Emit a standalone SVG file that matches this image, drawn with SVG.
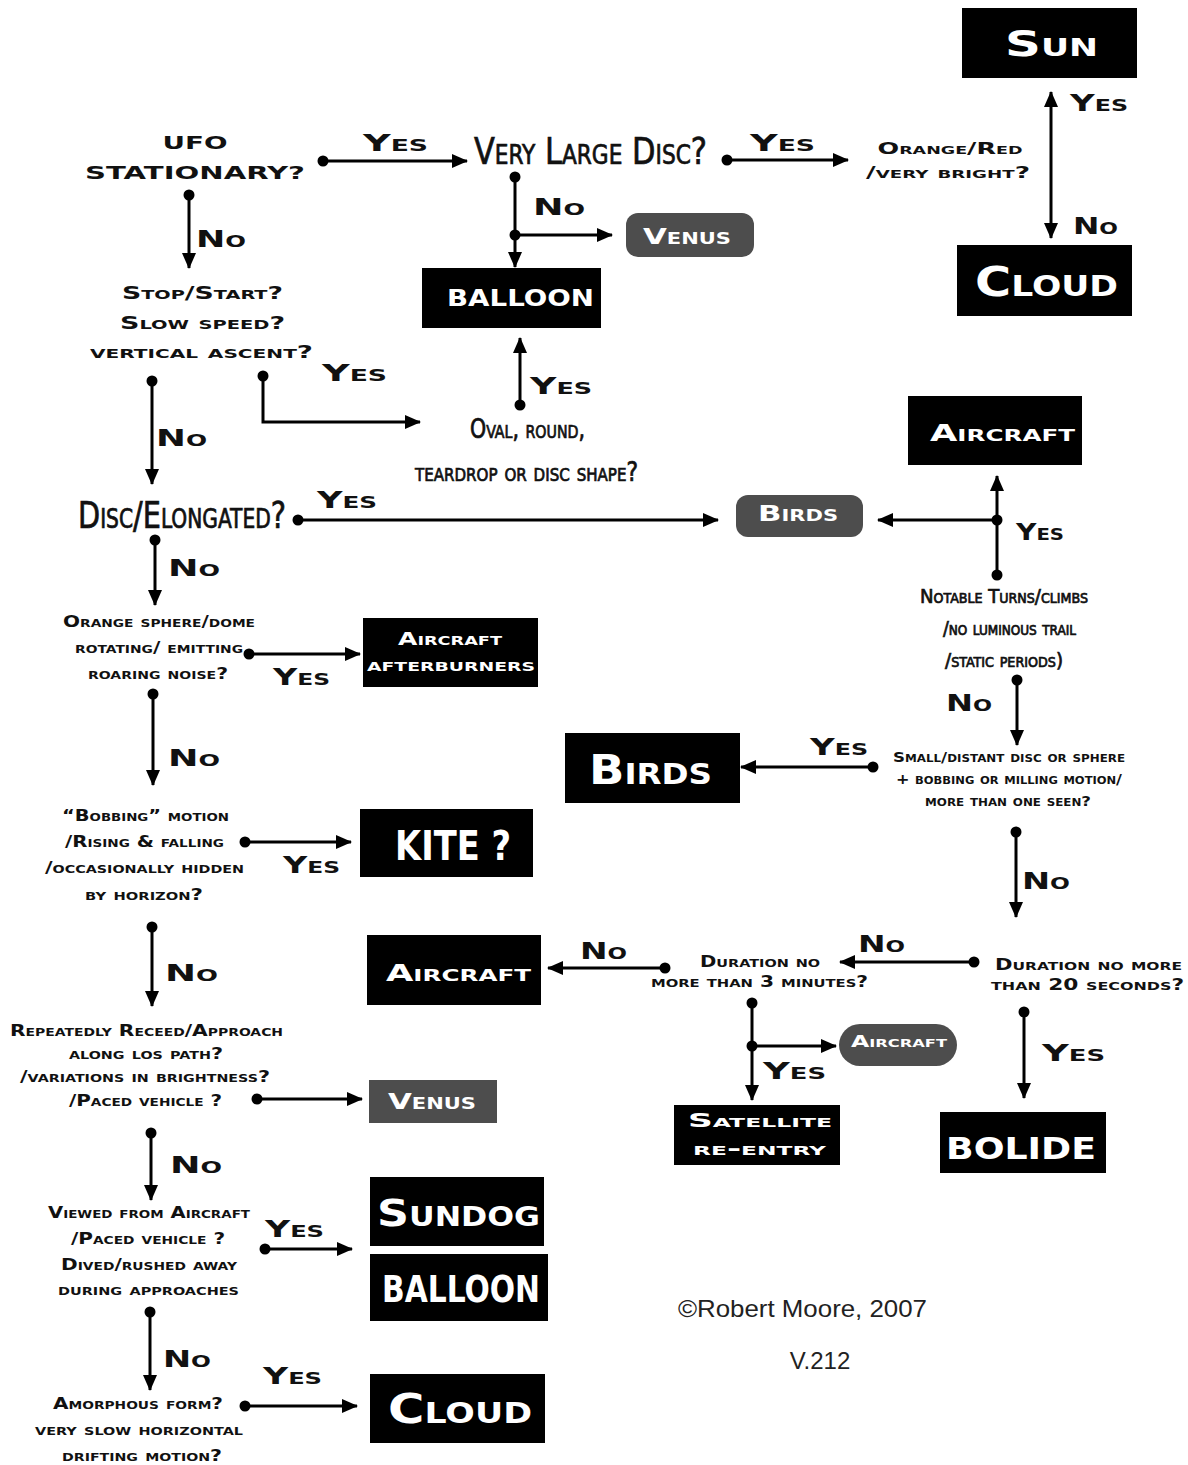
<svg xmlns="http://www.w3.org/2000/svg" width="1188" height="1465" viewBox="0 0 1188 1465">
<style>
.t{font-family:"DejaVu Sans","Liberation Sans",sans-serif;font-weight:bold;font-variant:small-caps;fill:#111;text-anchor:middle}
.w{fill:#fff}
.n{font-family:"DejaVu Sans Condensed","DejaVu Sans",sans-serif;font-stretch:condensed;font-variant:small-caps;fill:#111;stroke:#111;stroke-width:0.7;text-anchor:middle}
.k{font-family:"DejaVu Sans Condensed","DejaVu Sans",sans-serif;font-stretch:condensed;font-weight:bold;fill:#fff;text-anchor:middle}
.bx{fill:#000}
.gy{fill:#4d4d4d}
.c line,.c path{stroke:#000;stroke-width:3;fill:none}
.a{marker-end:url(#ah)}
.d{marker-start:url(#dot)}
.cr{font-family:"Liberation Sans",Arial,sans-serif;fill:#222}
</style>
<defs>
<marker id="ah" markerUnits="userSpaceOnUse" markerWidth="17" markerHeight="15" refX="15" refY="7" orient="auto-start-reverse" viewBox="0 0 17 14">
<path d="M0,0 L16,7 L0,14 z" fill="#000"/>
</marker>
<marker id="dot" markerUnits="userSpaceOnUse" markerWidth="12" markerHeight="12" refX="6" refY="6" orient="auto" viewBox="0 0 12 12">
<circle cx="6" cy="6" r="5.5" fill="#000"/>
</marker>
</defs>
<rect width="1188" height="1465" fill="#fff"/>

<g id="connectors" class="c">
<line class="d a" x1="323" y1="161" x2="467" y2="161"/>
<line class="d a" x1="727" y1="160" x2="848" y2="160"/>
<line x1="1051" y1="92" x2="1051" y2="238" style="marker-start:url(#ah);marker-end:url(#ah)"/>
<line class="d a" x1="189" y1="195" x2="189" y2="268"/>
<line class="d a" x1="515" y1="177" x2="515" y2="267"/>
<line class="d a" x1="515" y1="235" x2="612" y2="235"/>
<line class="d a" x1="520" y1="405" x2="520" y2="338"/>
<line class="d a" x1="152" y1="381" x2="152" y2="484"/>
<path class="d a" d="M263,376 L263,422 L420,422"/>
<line class="d a" x1="298" y1="520" x2="718" y2="520"/>
<line class="d a" x1="997" y1="575" x2="997" y2="476"/>
<line class="d a" x1="997" y1="520" x2="878" y2="520"/>
<line class="d a" x1="155" y1="540" x2="155" y2="605"/>
<line class="d a" x1="249" y1="654" x2="360" y2="654"/>
<line class="d a" x1="153" y1="694" x2="153" y2="785"/>
<line class="d a" x1="1017" y1="680" x2="1017" y2="745"/>
<line class="d a" x1="873" y1="767" x2="741" y2="767"/>
<line class="d a" x1="1016" y1="832" x2="1016" y2="917"/>
<line class="d a" x1="974" y1="962" x2="840" y2="962"/>
<line class="d a" x1="665" y1="968" x2="548" y2="968"/>
<line class="d a" x1="752" y1="1003" x2="752" y2="1100"/>
<line class="d a" x1="752" y1="1046" x2="836" y2="1046"/>
<line class="d a" x1="1024" y1="1012" x2="1024" y2="1098"/>
<line class="d a" x1="245" y1="842" x2="351" y2="842"/>
<line class="d a" x1="152" y1="927" x2="152" y2="1006"/>
<line class="d a" x1="257" y1="1099" x2="362" y2="1099"/>
<line class="d a" x1="151" y1="1133" x2="151" y2="1200"/>
<line class="d a" x1="265" y1="1249" x2="352" y2="1249"/>
<line class="d a" x1="150" y1="1312" x2="150" y2="1390"/>
<line class="d a" x1="245" y1="1406" x2="357" y2="1406"/>
</g>

<g id="edge-labels">
<text class="t" font-size="23" x="395.5" y="151" textLength="65" lengthAdjust="spacingAndGlyphs">Yes</text>
<text class="t" font-size="23" x="782.5" y="151" textLength="65" lengthAdjust="spacingAndGlyphs">Yes</text>
<text class="t" font-size="23" x="1099" y="111" textLength="58" lengthAdjust="spacingAndGlyphs">Yes</text>
<text class="t" font-size="23" x="1095.5" y="234" textLength="45" lengthAdjust="spacingAndGlyphs">No</text>
<text class="t" font-size="23" x="221" y="247" textLength="50" lengthAdjust="spacingAndGlyphs">No</text>
<text class="t" font-size="23" x="559" y="215" textLength="52" lengthAdjust="spacingAndGlyphs">No</text>
<text class="t" font-size="23" x="561" y="394" textLength="62" lengthAdjust="spacingAndGlyphs">Yes</text>
<text class="t" font-size="23" x="354.5" y="381" textLength="65" lengthAdjust="spacingAndGlyphs">Yes</text>
<text class="t" font-size="23" x="181.5" y="446" textLength="51" lengthAdjust="spacingAndGlyphs">No</text>
<text class="t" font-size="23" x="347" y="508" textLength="60" lengthAdjust="spacingAndGlyphs">Yes</text>
<text class="t" font-size="23" x="1040" y="540" textLength="48" lengthAdjust="spacingAndGlyphs">Yes</text>
<text class="t" font-size="23" x="194" y="576" textLength="52" lengthAdjust="spacingAndGlyphs">No</text>
<text class="t" font-size="23" x="301.5" y="685" textLength="57" lengthAdjust="spacingAndGlyphs">Yes</text>
<text class="t" font-size="23" x="969" y="711" textLength="46" lengthAdjust="spacingAndGlyphs">No</text>
<text class="t" font-size="23" x="194" y="766" textLength="52" lengthAdjust="spacingAndGlyphs">No</text>
<text class="t" font-size="23" x="839" y="755" textLength="58" lengthAdjust="spacingAndGlyphs">Yes</text>
<text class="t" font-size="23" x="311.5" y="873" textLength="57" lengthAdjust="spacingAndGlyphs">Yes</text>
<text class="t" font-size="23" x="1046" y="889" textLength="48" lengthAdjust="spacingAndGlyphs">No</text>
<text class="t" font-size="23" x="881.5" y="952" textLength="47" lengthAdjust="spacingAndGlyphs">No</text>
<text class="t" font-size="23" x="603.5" y="959" textLength="47" lengthAdjust="spacingAndGlyphs">No</text>
<text class="t" font-size="23" x="191.5" y="981" textLength="53" lengthAdjust="spacingAndGlyphs">No</text>
<text class="t" font-size="23" x="794.5" y="1079" textLength="63" lengthAdjust="spacingAndGlyphs">Yes</text>
<text class="t" font-size="23" x="1073.5" y="1061" textLength="63" lengthAdjust="spacingAndGlyphs">Yes</text>
<text class="t" font-size="23" x="196" y="1173" textLength="52" lengthAdjust="spacingAndGlyphs">No</text>
<text class="t" font-size="23" x="294.5" y="1237" textLength="59" lengthAdjust="spacingAndGlyphs">Yes</text>
<text class="t" font-size="23" x="187" y="1367" textLength="48" lengthAdjust="spacingAndGlyphs">No</text>
<text class="t" font-size="23" x="292.5" y="1384" textLength="59" lengthAdjust="spacingAndGlyphs">Yes</text>
</g>

<g id="q-ufo">
<text class="t" font-size="18" x="195" y="149" textLength="65" lengthAdjust="spacingAndGlyphs">UFO</text>
<text class="t" font-size="18" x="195" y="179" textLength="220" lengthAdjust="spacingAndGlyphs">STATIONARY?</text>
</g>
<g id="q-large-disc">
<text class="n" font-size="38" x="590.5" y="164" textLength="233" lengthAdjust="spacingAndGlyphs">Very Large Disc?</text>
</g>
<g id="q-orange-red">
<text class="t" font-size="16" x="950" y="154" textLength="145" lengthAdjust="spacingAndGlyphs">Orange/Red</text>
<text class="t" font-size="16" x="948" y="178" textLength="164" lengthAdjust="spacingAndGlyphs">/very bright?</text>
</g>
<g id="n-sun"><rect class="bx" x="962" y="8" width="175" height="70"/>
<text class="t w" font-size="36" x="1051.5" y="56" textLength="93" lengthAdjust="spacingAndGlyphs">Sun</text></g>
<g id="n-cloud-top"><rect class="bx" x="957" y="245" width="175" height="71"/>
<text class="t w" font-size="40" x="1046.5" y="296" textLength="143" lengthAdjust="spacingAndGlyphs">Cloud</text></g>
<g id="n-venus-top"><rect class="gy" x="626" y="213" width="128" height="44" rx="12"/>
<text class="t w" font-size="22" x="687" y="244" textLength="88" lengthAdjust="spacingAndGlyphs">Venus</text></g>
<g id="n-balloon-top"><rect class="bx" x="422" y="268" width="179" height="60"/>
<text class="t w" font-size="23" x="520.5" y="306" textLength="147" lengthAdjust="spacingAndGlyphs">BALLOON</text></g>
<g id="q-stop-start">
<text class="t" font-size="18" x="202.5" y="299" textLength="161" lengthAdjust="spacingAndGlyphs">Stop/Start?</text>
<text class="t" font-size="18" x="202.5" y="329" textLength="165" lengthAdjust="spacingAndGlyphs">Slow speed?</text>
<text class="t" font-size="18" x="201.5" y="358" textLength="223" lengthAdjust="spacingAndGlyphs">vertical ascent?</text>
</g>
<g id="q-oval">
<text class="n" font-size="26" x="527.5" y="438" textLength="115" lengthAdjust="spacingAndGlyphs">Oval, round,</text>
<text class="n" font-size="26" x="526.5" y="481" textLength="223" lengthAdjust="spacingAndGlyphs">teardrop or disc shape?</text>
</g>
<g id="n-aircraft-top"><rect class="bx" x="908" y="396" width="174" height="69"/>
<text class="t w" font-size="23" x="1002.5" y="441" textLength="145" lengthAdjust="spacingAndGlyphs">Aircraft</text></g>
<g id="q-disc-elongated">
<text class="n" font-size="37" x="182" y="528" textLength="208" lengthAdjust="spacingAndGlyphs">Disc/Elongated?</text>
</g>
<g id="n-birds-small"><rect class="gy" x="736" y="495" width="127" height="42" rx="12"/>
<text class="t w" font-size="22" x="798" y="521" textLength="80" lengthAdjust="spacingAndGlyphs">Birds</text></g>
<g id="q-notable">
<text class="n" font-size="20" x="1004" y="603" textLength="168" lengthAdjust="spacingAndGlyphs">Notable Turns/climbs</text>
<text class="n" font-size="20" x="1009.5" y="635" textLength="133" lengthAdjust="spacingAndGlyphs">/no luminous trail</text>
<text class="n" font-size="20" x="1004" y="667" textLength="118" lengthAdjust="spacingAndGlyphs">/static periods)</text>
</g>
<g id="q-orange-sphere">
<text class="t" font-size="16" x="159" y="627" textLength="192" lengthAdjust="spacingAndGlyphs">Orange sphere/dome</text>
<text class="t" font-size="16" x="159" y="653" textLength="168" lengthAdjust="spacingAndGlyphs">rotating/ emitting</text>
<text class="t" font-size="16" x="158" y="679" textLength="140" lengthAdjust="spacingAndGlyphs">roaring noise?</text>
</g>
<g id="n-afterburners"><rect class="bx" x="363" y="618" width="175" height="69"/>
<text class="t w" font-size="17" x="450" y="645" textLength="104" lengthAdjust="spacingAndGlyphs">Aircraft</text>
<text class="t w" font-size="17" x="451" y="671" textLength="168" lengthAdjust="spacingAndGlyphs">afterburners</text></g>
<g id="q-small-distant">
<text class="t" font-size="14" x="1009" y="762" textLength="232" lengthAdjust="spacingAndGlyphs">Small/distant disc or sphere</text>
<text class="t" font-size="14" x="1009" y="784" textLength="226" lengthAdjust="spacingAndGlyphs">+ bobbing or milling motion/</text>
<text class="t" font-size="14" x="1008" y="806" textLength="166" lengthAdjust="spacingAndGlyphs">more than one seen?</text>
</g>
<g id="n-birds-big"><rect class="bx" x="565" y="733" width="175" height="70"/>
<text class="t w" font-size="40" x="650.5" y="784" textLength="123" lengthAdjust="spacingAndGlyphs">Birds</text></g>
<g id="q-bobbing">
<text class="t" font-size="16" x="145.5" y="821" textLength="167" lengthAdjust="spacingAndGlyphs">“Bobbing” motion</text>
<text class="t" font-size="16" x="144.5" y="847" textLength="159" lengthAdjust="spacingAndGlyphs">/Rising &amp; falling</text>
<text class="t" font-size="16" x="144.5" y="873" textLength="199" lengthAdjust="spacingAndGlyphs">/occasionally hidden</text>
<text class="t" font-size="16" x="144" y="900" textLength="118" lengthAdjust="spacingAndGlyphs">by  horizon?</text>
</g>
<g id="n-kite"><rect class="bx" x="360" y="809" width="173" height="68"/>
<text class="k" font-size="40" x="453" y="860" textLength="116" lengthAdjust="spacingAndGlyphs">KITE ?</text></g>
<g id="q-20-seconds">
<text class="t" font-size="15" x="1088.5" y="970" textLength="187" lengthAdjust="spacingAndGlyphs">Duration no more</text>
<text class="t" font-size="15" x="1087.5" y="990" textLength="193" lengthAdjust="spacingAndGlyphs">than 20 seconds?</text>
</g>
<g id="q-3-minutes">
<text class="t" font-size="15" x="760" y="967" textLength="120" lengthAdjust="spacingAndGlyphs">Duration no</text>
<text class="t" font-size="15" x="759.5" y="987" textLength="217" lengthAdjust="spacingAndGlyphs">more than 3 minutes?</text>
</g>
<g id="n-aircraft-mid"><rect class="bx" x="367" y="935" width="174" height="70"/>
<text class="t w" font-size="23" x="458.5" y="981" textLength="145" lengthAdjust="spacingAndGlyphs">Aircraft</text></g>
<g id="n-aircraft-pill"><rect class="gy" x="839" y="1024" width="118" height="42" rx="21"/>
<text class="t w" font-size="16" x="899" y="1047" textLength="96" lengthAdjust="spacingAndGlyphs">Aircraft</text></g>
<g id="n-satellite"><rect class="bx" x="674" y="1105" width="166" height="60"/>
<text class="t w" font-size="19" x="760" y="1127" textLength="144" lengthAdjust="spacingAndGlyphs">Satellite</text>
<text class="t w" font-size="19" x="759.5" y="1155" textLength="133" lengthAdjust="spacingAndGlyphs">re-entry</text></g>
<g id="n-bolide"><rect class="bx" x="940" y="1112" width="166" height="61"/>
<text class="t w" font-size="30" x="1021" y="1159" textLength="150" lengthAdjust="spacingAndGlyphs">BOLIDE</text></g>
<g id="q-repeatedly">
<text class="t" font-size="16" x="146.5" y="1036" textLength="273" lengthAdjust="spacingAndGlyphs">Repeatedly Receed/Approach</text>
<text class="t" font-size="16" x="146" y="1059" textLength="154" lengthAdjust="spacingAndGlyphs">along los path?</text>
<text class="t" font-size="16" x="145" y="1082" textLength="250" lengthAdjust="spacingAndGlyphs">/variations in brightness?</text>
<text class="t" font-size="16" x="145.5" y="1106" textLength="153" lengthAdjust="spacingAndGlyphs">/Paced vehicle ?</text>
</g>
<g id="n-venus-left"><rect class="gy" x="369" y="1080" width="128" height="43"/>
<text class="t w" font-size="22" x="432" y="1109" textLength="88" lengthAdjust="spacingAndGlyphs">Venus</text></g>
<g id="q-viewed">
<text class="t" font-size="16" x="149" y="1218" textLength="202" lengthAdjust="spacingAndGlyphs">Viewed from Aircraft</text>
<text class="t" font-size="16" x="148" y="1244" textLength="154" lengthAdjust="spacingAndGlyphs">/Paced vehicle ?</text>
<text class="t" font-size="16" x="149" y="1270" textLength="176" lengthAdjust="spacingAndGlyphs">Dived/rushed away</text>
<text class="t" font-size="16" x="148.5" y="1295" textLength="181" lengthAdjust="spacingAndGlyphs">during approaches</text>
</g>
<g id="n-sundog"><rect class="bx" x="370" y="1177" width="174" height="69"/>
<text class="t w" font-size="38" x="458.5" y="1226" textLength="163" lengthAdjust="spacingAndGlyphs">Sundog</text></g>
<g id="n-balloon-bottom"><rect class="bx" x="370" y="1254" width="178" height="67"/>
<text class="k" font-size="37" x="461" y="1302" textLength="158" lengthAdjust="spacingAndGlyphs">BALLOON</text></g>
<g id="q-amorphous">
<text class="t" font-size="16" x="138" y="1409" textLength="170" lengthAdjust="spacingAndGlyphs">Amorphous form?</text>
<text class="t" font-size="16" x="139" y="1435" textLength="208" lengthAdjust="spacingAndGlyphs">very slow horizontal</text>
<text class="t" font-size="16" x="142" y="1461" textLength="160" lengthAdjust="spacingAndGlyphs">drifting motion?</text>
</g>
<g id="n-cloud-bottom"><rect class="bx" x="370" y="1374" width="175" height="69"/>
<text class="t w" font-size="40" x="460" y="1423" textLength="144" lengthAdjust="spacingAndGlyphs">Cloud</text></g>
<g id="credits">
<text class="cr" font-size="24" x="678" y="1317" textLength="249" lengthAdjust="spacingAndGlyphs">©Robert Moore, 2007</text>
<text class="cr" font-size="24" x="820" y="1369" text-anchor="middle">V.212</text>
</g>
</svg>
